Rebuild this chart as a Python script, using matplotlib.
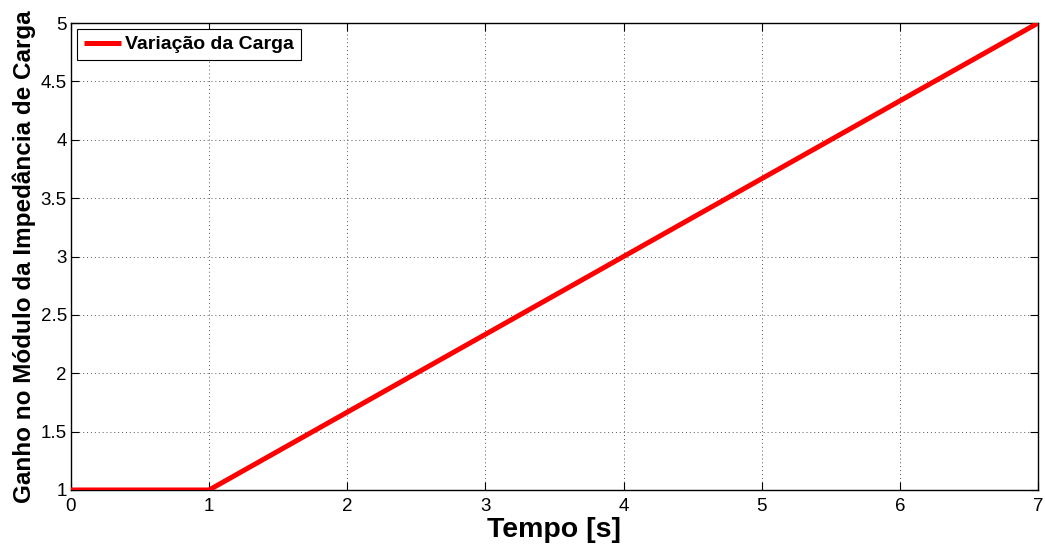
import matplotlib
matplotlib.use("Agg")
import matplotlib.pyplot as plt

# Load variation profile
tempo = [0, 1, 7]
ganho = [1, 1, 5]
xticks = [0, 1, 2, 3, 4, 5, 6, 7]
yticks = [1, 1.5, 2, 2.5, 3, 3.5, 4, 4.5, 5]
ytick_labels = ["1", "1.5", "2", "2.5", "3", "3.5", "4", "4.5", "5"]

plt.rcParams['font.family'] = ['Liberation Sans', 'DejaVu Sans']

fig = plt.figure(figsize=(10.45, 5.49), dpi=100)
ax = fig.add_axes([0.0679, 0.1075, 0.9254, 0.8505])

ax.plot(tempo, ganho, color='#ff0000', linewidth=3.6, label='Variação da Carga',
        solid_capstyle='butt', zorder=3)

ax.set_xlim(0, 7)
ax.set_ylim(1, 5)
ax.set_xticks(xticks)
ax.set_yticks(yticks)
ax.set_yticklabels(ytick_labels)
ax.tick_params(direction='in', length=6, width=0.8, labelsize=13.5,
               top=True, right=True, colors='black')
ax.tick_params(axis='x', pad=6)
ax.tick_params(axis='y', pad=3)
ax.grid(True, linestyle=(0, (1, 3)), color='#555555', linewidth=0.7)
for s in ax.spines.values():
    s.set_linewidth(1.0)

ax.set_xlabel('Tempo [s]', fontsize=20.5, fontweight='bold', labelpad=1)
ax.set_ylabel('Ganho no Módulo da Impedância de Carga', fontsize=17.5,
              fontweight='bold', labelpad=3)

leg = ax.legend(loc='upper left', prop={'weight': 'bold', 'size': 14},
                fancybox=False, edgecolor='black', framealpha=1, handlelength=1.9,
                borderpad=0.35, handletextpad=0.25, borderaxespad=0.3)
leg.get_frame().set_linewidth(0.8)

fig.savefig('out.png', dpi=100)
